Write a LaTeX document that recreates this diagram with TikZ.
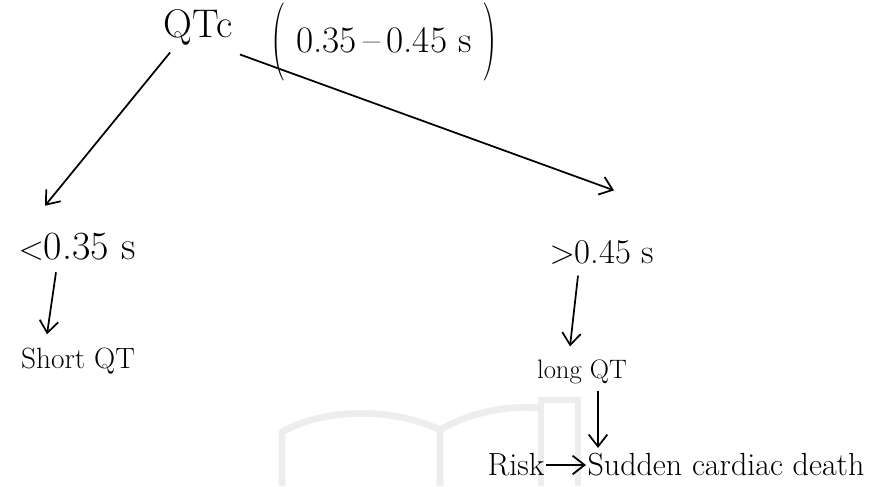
\documentclass[tikz,border=0pt]{standalone}
\usepackage{graphicx}
\usetikzlibrary{arrows.meta}
\newcommand{\tallparen}[1]{\raisebox{-0.55ex}{\scalebox{1.1}[2.1]{#1}}}
\tikzset{
  big/.style={font=\fontsize{30}{32}\selectfont, inner sep=1pt},
  lbl/.style={font=\fontsize{24}{26}\selectfont, inner sep=1pt},
  arr/.style={line width=1.3pt, -{Straight Barb[length=9pt,width=14pt,line width=1.3pt]}},
  wmark/.style={draw=black!7, line width=5pt}
}
\begin{document}
\begin{tikzpicture}[x=0.75pt,y=-0.75pt]
  \useasboundingbox[fill=white] (0,0) rectangle (871,486);

  % faint book watermark
  \draw[wmark] (282,486) -- (282,432) .. controls (330,405) and (400,410) .. (440,430) -- (440,486);
  \draw[wmark] (440,430) .. controls (470,412) and (510,405) .. (540,408);
  \draw[wmark] (541,486) -- (541,400) -- (578,400) -- (578,486);

  % top
  \node[big] (qtc) at (198,27) {QTc};
  \node[lbl, font=\fontsize{28}{30}\selectfont] (range) at (384,42) {\tallparen{(}\;0.35\,--\,0.45 s\;\tallparen{)}};

  % short branch
  \node[lbl, font=\fontsize{30}{32}\selectfont] (short) at (77,247) {$<$0.35 s};
  \node[lbl, font=\fontsize{22}{24}\selectfont] (shortqt) at (78,361) {Short QT};

  % long branch
  \node[lbl, font=\fontsize{26}{28}\selectfont] (long) at (602,252) {$>$0.45 s};
  \node[lbl, font=\fontsize{20}{22}\selectfont] (longqt) at (582,372) {long QT};
  \node[lbl] (risk) at (516,465) {Risk};
  \node[lbl] (scd) at (726,465) {Sudden cardiac death};

  % arrows
  \draw[arr] ([shift={(8,6)}]qtc.south west) -- ([shift={(-32,-26)}]short.north);
  \draw[arr] ([shift={(6,8)}]qtc.south east) -- ([shift={(12,-48)}]long.north);
  \draw[arr] ([shift={(-21,10)}]short.south) -- ([shift={(-31,-12)}]shortqt.north);
  \draw[arr] ([shift={(-24,10)}]long.south) -- ([shift={(-12,-12)}]longqt.north);
  \draw[arr] ([xshift=12pt,yshift=-4pt]longqt.south) -- ([xshift=12pt,yshift=3pt]longqt.south |- scd.north);
  \draw[arr] (risk.east) -- (scd.west);
\end{tikzpicture}
\end{document}
